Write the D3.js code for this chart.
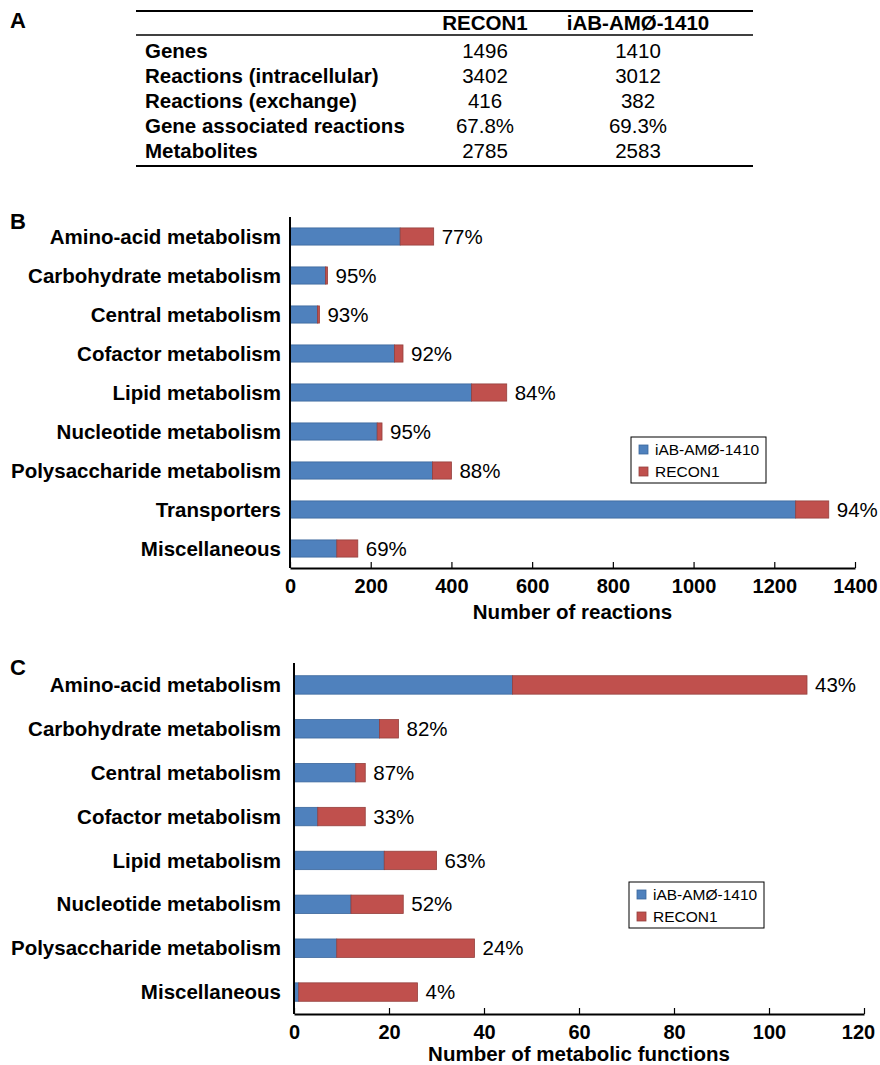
<!DOCTYPE html>
<html>
<head>
<meta charset="utf-8">
<script src="https://cdn.jsdelivr.net/npm/d3@7"></script>
<style>
body{margin:0;background:white;font-family:"Liberation Sans",Arial,sans-serif;}
</style>
</head>
<body>
<div id="fig"></div>
<script>

// -----------------------------
// DATA
// -----------------------------

const tableCols = ["RECON1","iAB-AMØ-1410"]
const tableRows = ["Genes","Reactions (intracellular)","Reactions (exchange)","Gene associated reactions","Metabolites"]
const tableRecon = ["1496","3402","416","67.8%","2785"]
const tableIab = ["1410","3012","382","69.3%","2583"]

const seriesNames = ["iAB-AMØ-1410","RECON1"]

const catsB = ["Amino-acid metabolism","Carbohydrate metabolism","Central metabolism","Cofactor metabolism","Lipid metabolism","Nucleotide metabolism","Polysaccharide metabolism","Transporters","Miscellaneous"]
const iabB = [273,88,68,259,450,216,353,1253,116]
const reconB = [356,93,73,280,537,228,400,1335,168]
const pctB = ["77%","95%","93%","92%","84%","95%","88%","94%","69%"]
const ticksB = [0,200,400,600,800,1000,1200,1400]

const catsC = ["Amino-acid metabolism","Carbohydrate metabolism","Central metabolism","Cofactor metabolism","Lipid metabolism","Nucleotide metabolism","Polysaccharide metabolism","Miscellaneous"]
const iabC = [46,18,13,5,19,12,9,1]
const reconC = [108,22,15,15,30,23,38,26]
const pctC = ["43%","82%","87%","33%","63%","52%","24%","4%"]
const ticksC = [0,20,40,60,80,100,120]

const blue = "#4f81bd", blueEdge = "#3b679c"
const red = "#c0504d", redEdge = "#94403d"

const W = 880, H = 1065
const FONT = "'Liberation Sans',Arial,sans-serif"

const svg = d3.select("#fig")
.append("svg")
.attr("width",W)
.attr("height",H)
.style("font-family",FONT)


// -----------------------------
// PANEL A: TABLE
// -----------------------------

function drawTable(){

const g = svg.append("g")
const x0 = 136, x1 = 753
const colX = [485,638]

g.append("text").attr("x",10).attr("y",28).attr("font-size",22).attr("font-weight","bold").text("A")

g.append("line").attr("x1",x0).attr("x2",x1).attr("y1",11).attr("y2",11).attr("stroke","#000").attr("stroke-width",2)
g.append("line").attr("x1",x0).attr("x2",x1).attr("y1",35).attr("y2",35).attr("stroke","#000").attr("stroke-width",1.5)
g.append("line").attr("x1",x0).attr("x2",x1).attr("y1",166).attr("y2",166).attr("stroke","#000").attr("stroke-width",2)

g.selectAll(".hdr")
.data(tableCols)
.enter()
.append("text")
.attr("x",(d,i)=>colX[i])
.attr("y",23)
.attr("dy","0.35em")
.attr("text-anchor","middle")
.attr("font-size",20.5)
.attr("font-weight","bold")
.text(d=>d)

const rowY = d3.scaleBand().domain(tableRows).range([38,163])

g.selectAll(".rl")
.data(tableRows)
.enter()
.append("text")
.attr("x",145)
.attr("y",d=>rowY(d)+rowY.bandwidth()/2)
.attr("dy","0.35em")
.attr("font-size",20.5)
.attr("font-weight","bold")
.text(d=>d)

tableRows.forEach((r,i)=>{
[tableRecon[i],tableIab[i]].forEach((v,j)=>{
g.append("text")
.attr("x",colX[j])
.attr("y",rowY(r)+rowY.bandwidth()/2)
.attr("dy","0.35em")
.attr("text-anchor","middle")
.attr("font-size",20.5)
.text(v)
})
})

}


// -----------------------------
// STACKED BARS
// -----------------------------

function drawBars(o){

const g = svg.append("g")

g.append("text").attr("x",10).attr("y",o.top+12).attr("font-size",22).attr("font-weight","bold").text(o.letter)

const x = d3.scaleLinear()
.domain([0,o.max])
.range([o.left,o.right])

const y = d3.scaleBand()
.domain(o.cats)
.range([o.top,o.bottom])
.paddingInner(o.pad)
.paddingOuter(o.pad/2)

// category labels
g.selectAll(".cat")
.data(o.cats)
.enter()
.append("text")
.attr("x",281)
.attr("y",d=>y(d)+y.bandwidth()/2)
.attr("dy","0.35em")
.attr("text-anchor","end")
.attr("font-size",20.5)
.attr("font-weight","bold")
.text(d=>d)

// blue segment
g.selectAll(".b")
.data(o.cats)
.enter()
.append("rect")
.attr("x",x(0))
.attr("y",d=>y(d))
.attr("width",(d,i)=>x(o.iab[i])-x(0))
.attr("height",y.bandwidth())
.attr("fill",blue)
.attr("stroke",blueEdge)
.attr("stroke-width",0.8)

// red segment
g.selectAll(".r")
.data(o.cats)
.enter()
.append("rect")
.attr("x",(d,i)=>x(o.iab[i]))
.attr("y",d=>y(d))
.attr("width",(d,i)=>x(o.recon[i])-x(o.iab[i]))
.attr("height",y.bandwidth())
.attr("fill",red)
.attr("stroke",redEdge)
.attr("stroke-width",0.8)

// percentages
g.selectAll(".p")
.data(o.cats)
.enter()
.append("text")
.attr("x",(d,i)=>x(o.recon[i])+8)
.attr("y",d=>y(d)+y.bandwidth()/2)
.attr("dy","0.35em")
.attr("font-size",20.5)
.text((d,i)=>o.pct[i])

// axes
g.append("line")
.attr("x1",o.left).attr("x2",o.left)
.attr("y1",o.top).attr("y2",o.bottom)
.attr("stroke","#000").attr("stroke-width",2)

const ax = g.append("g")
.attr("transform",`translate(0,${o.bottom})`)
.call(d3.axisBottom(x).tickValues(o.ticks).tickFormat(d3.format("d")).tickSizeInner(-6).tickSizeOuter(0).tickPadding(11))

ax.select(".domain").attr("stroke-width",2)
ax.selectAll(".tick line").attr("stroke-width",1.2)
ax.selectAll(".tick text")
.attr("font-size",20)
.attr("font-weight","bold")
.attr("font-family",FONT)
.attr("dx",(d,i)=>i==o.ticks.length-1?-o.lastShift:0)

g.append("text")
.attr("x",(o.left+o.right)/2)
.attr("y",o.bottom+o.titleDy)
.attr("dy","0.35em")
.attr("text-anchor","middle")
.attr("font-size",20.5)
.attr("font-weight","bold")
.text(o.title)

// legend
const lg = g.append("g").attr("transform",`translate(${o.leg[0]},${o.leg[1]})`)
lg.append("rect").attr("width",135).attr("height",46).attr("fill","white").attr("stroke","#000").attr("stroke-width",1)
seriesNames.forEach((s,i)=>{
lg.append("rect")
.attr("x",8).attr("y",8+i*22).attr("width",9).attr("height",9)
.attr("fill",i==0?blue:red)
.attr("stroke",i==0?blueEdge:redEdge)
.attr("stroke-width",0.8)
lg.append("text")
.attr("x",24).attr("y",13+i*22)
.attr("dy","0.35em")
.attr("font-size",15.5)
.text(s)
})

}

drawTable()

drawBars({
letter:"B",cats:catsB,iab:iabB,recon:reconB,pct:pctB,ticks:ticksB,max:1400,
left:290,right:855,top:217,bottom:568,pad:0.56,titleDy:44,lastShift:0,
title:"Number of reactions",leg:[631,437]
})

drawBars({
letter:"C",cats:catsC,iab:iabC,recon:reconC,pct:pctC,ticks:ticksC,max:120,
left:294,right:864,top:663,bottom:1014,pad:0.58,titleDy:40,lastShift:6,
title:"Number of metabolic functions",leg:[629,882]
})

</script>
</body>
</html>
